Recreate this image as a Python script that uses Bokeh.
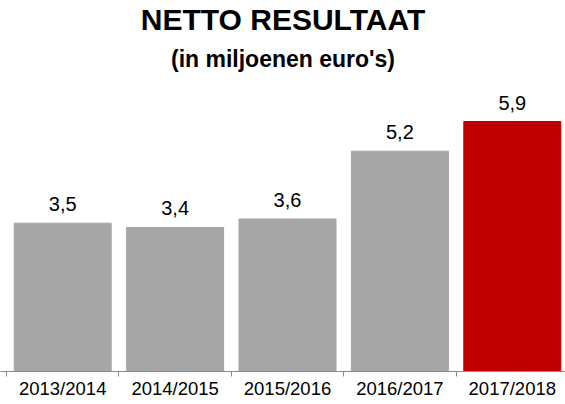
from bokeh.plotting import figure
from bokeh.models import ColumnDataSource, FixedTicker, Title, Range1d
from bokeh.core.properties import value
from bokeh.embed import file_html
from bokeh.resources import INLINE

# ---- data ----
categories = ["2013/2014", "2014/2015", "2015/2016", "2016/2017", "2017/2018"]
values = [3.5, 3.4, 3.6, 5.2, 5.9]
bar_colors = ["#A6A6A6", "#A6A6A6", "#A6A6A6", "#A6A6A6", "#C00000"]
value_labels = [f"{v:.1f}".replace(".", ",") for v in values]

xs = list(range(len(categories)))
src = ColumnDataSource(dict(x=xs, top=values, color=bar_colors, label=value_labels))

FONT = "Liberation Sans"
frame_h = 292
px_per_unit = 42.37

p = figure(
    width=565, height=404,
    frame_width=565, frame_height=frame_h,
    x_range=Range1d(-0.5534, 4.4733),
    y_range=Range1d(0, frame_h / px_per_unit),
    output_backend="svg", toolbar_location=None,
    min_border_left=0, min_border_right=0, min_border_top=0, min_border_bottom=0,
)
p.outline_line_color = None
p.background_fill_color = "white"
p.border_fill_color = "white"
p.xgrid.visible = False
p.ygrid.visible = False
p.yaxis.visible = False

p.vbar(x="x", top="top", bottom=0, width=0.863, color="color", source=src)
p.text(x="x", y="top", text="label", source=src, y_offset=-12,
       text_align="center", text_baseline="bottom",
       text_font=value(FONT), text_font_size="20px", text_color="#000000")

ax = p.xaxis[0]
ax.ticker = FixedTicker(ticks=xs, minor_ticks=[i - 0.5 for i in range(len(categories) + 1)])
ax.major_label_overrides = {i: c for i, c in enumerate(categories)}
ax.major_tick_out = 0
ax.major_tick_in = 0
ax.minor_tick_out = 5
ax.minor_tick_in = 0
ax.minor_tick_line_color = "#898989"
ax.axis_line_color = "#898989"
ax.major_label_text_font = FONT
ax.major_label_text_font_size = "18.5px"
ax.major_label_text_color = "#000000"
ax.major_label_standoff = 1

p.title.text = "NETTO RESULTAAT"
p.title.align = "center"
p.title.text_font = FONT
p.title.text_font_size = "30px"
p.title.text_font_style = "bold"
p.title.text_color = "#000000"
p.title.standoff = 0

sub = Title(text="(in miljoenen euro's)", align="center", text_font=FONT,
            text_font_size="23px", text_font_style="bold", text_color="#000000",
            standoff=16)
p.add_layout(sub, "above")

open("out.html", "w").write(file_html(p, INLINE))
